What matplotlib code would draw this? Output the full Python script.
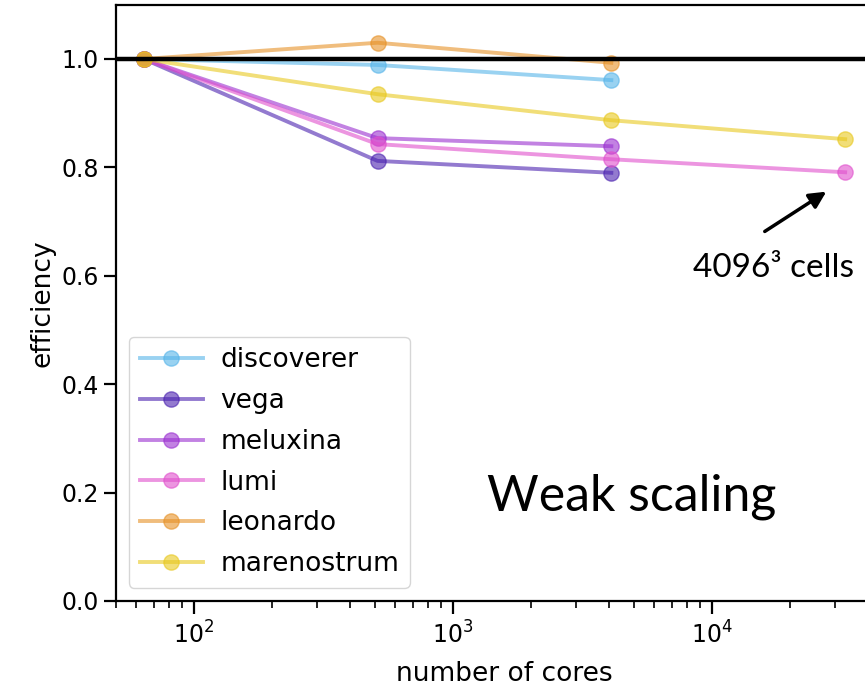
import matplotlib
matplotlib.use("Agg")
import matplotlib.pyplot as plt

# cores and efficiency per machine
cores = [64, 512, 4096, 32768]

names = ["discoverer", "vega", "meluxina", "lumi", "leonardo", "marenostrum"]
eff_discoverer = [1.0, 0.989, 0.961]
eff_vega = [1.0, 0.812, 0.790]
eff_meluxina = [1.0, 0.854, 0.839]
eff_lumi = [1.0, 0.843, 0.815, 0.791]
eff_leonardo = [1.0, 1.030, 0.993]
eff_marenostrum = [1.0, 0.935, 0.887, 0.852]

colors = ["#56b4e9", "#4b22b0", "#9a2fd0", "#e04fcc", "#e69126", "#e8c81e"]

fig = plt.figure(figsize=(8.65, 6.86), dpi=100)
ax = fig.add_axes([0.134, 0.124, 0.898, 0.869])

series = [eff_discoverer, eff_vega, eff_meluxina, eff_lumi, eff_leonardo, eff_marenostrum]
for name, eff, c in zip(names, series, colors):
    ax.plot(cores[:len(eff)], eff, color=c, marker='o', linestyle='solid',
            lw=2.8, ms=11, alpha=0.6, label=name)

ax.axhline(1.0, color='black', lw=3.2)

ax.set_xscale('log')
ax.set_xlim(50, 50000)
ax.set_ylim(0, 1.1)
ax.set_yticks([0.0, 0.2, 0.4, 0.6, 0.8, 1.0])

ax.tick_params(labelsize=17, length=9, width=1.6)
ax.tick_params(axis='x', pad=6)
ax.tick_params(which='minor', length=5, width=1.2)
for s in ax.spines.values():
    s.set_linewidth(1.6)

ax.set_xlabel("number of cores", fontsize=19, labelpad=9)
ax.set_ylabel("efficiency", fontsize=19)

ax.legend(loc='lower left', fontsize=19, borderaxespad=0.5, handlelength=2.4,
          handletextpad=0.65, labelspacing=0.56)

# annotation arrow + text
ax.annotate("", xy=(28300, 0.758), xytext=(15700, 0.679),
            arrowprops=dict(arrowstyle='-|>', color='black', lw=2.5, mutation_scale=25))
ax.text(8450, 0.598, "4096\u00b3 cells", fontsize=24, family='Lato', va='baseline')
ax.text(1353, 0.166, "Weak scaling", fontsize=36, family='Lato', va='baseline')

fig.savefig("out.png", dpi=100)
